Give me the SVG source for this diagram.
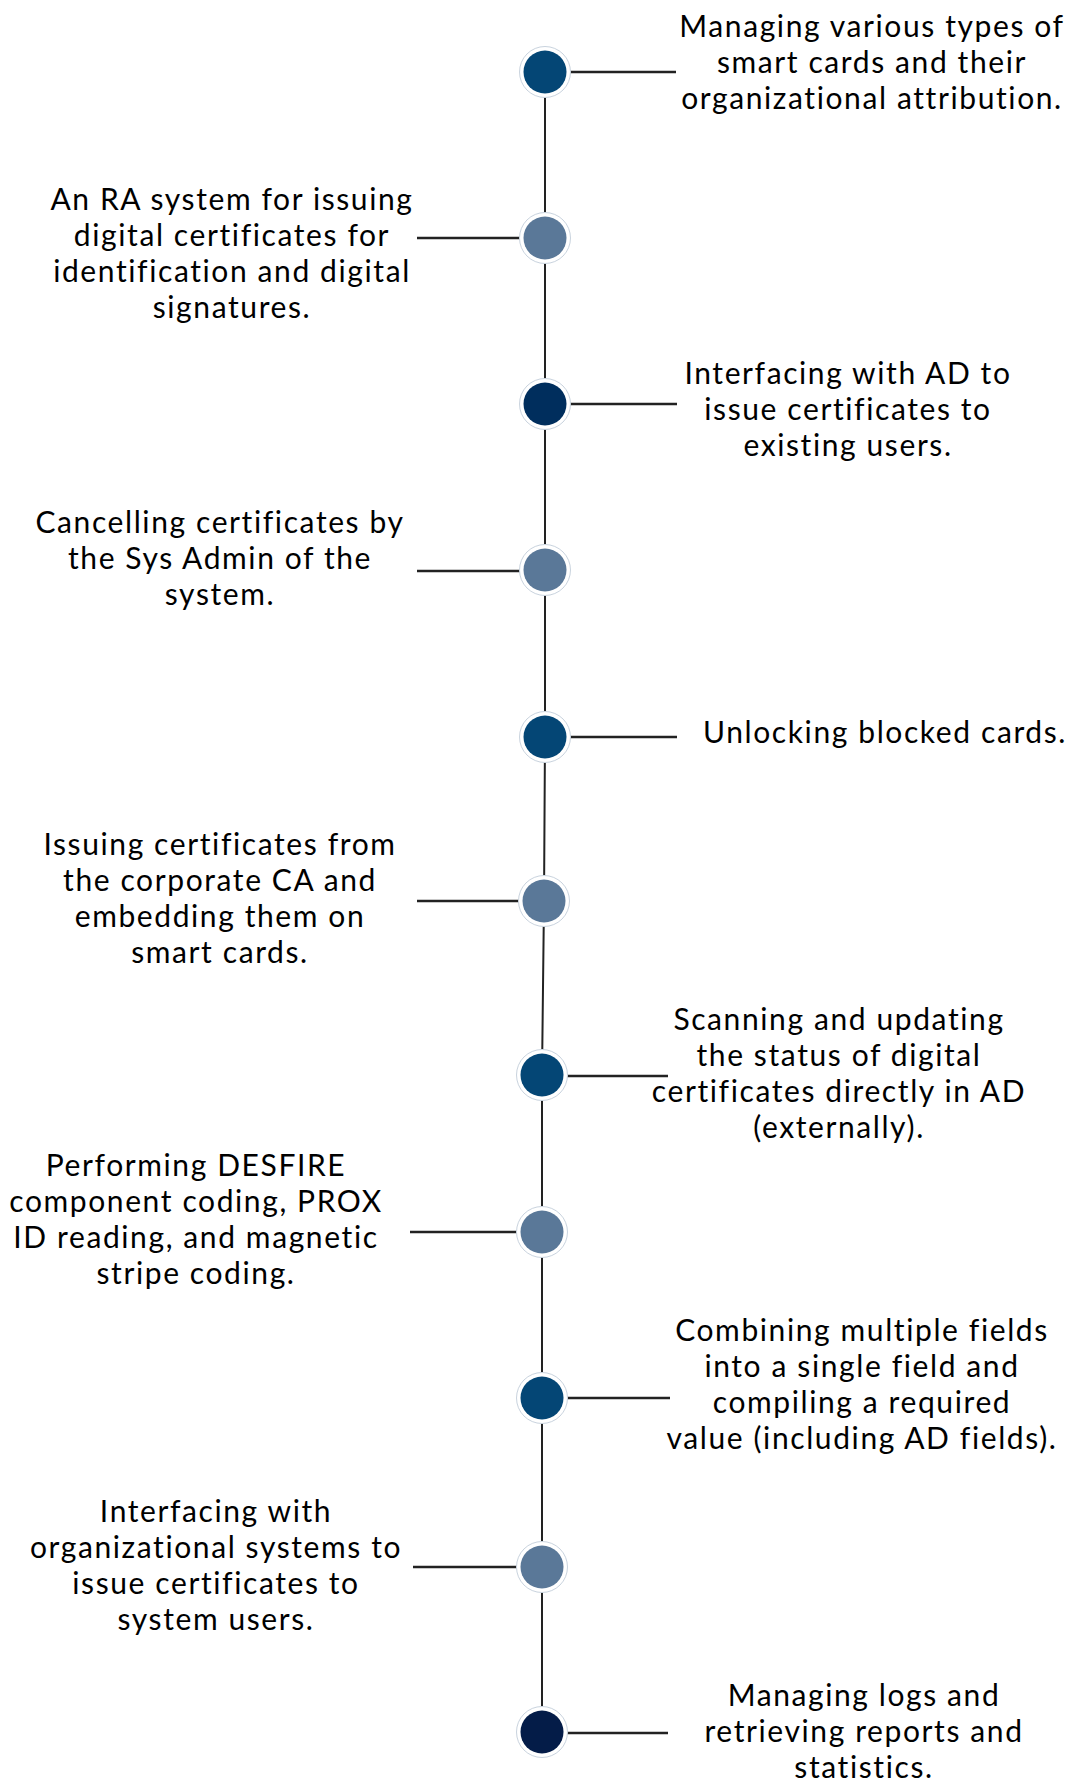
<svg xmlns="http://www.w3.org/2000/svg" width="1076" height="1782" viewBox="0 0 1076 1782">
<style>
.t{font-family:"Lato","Liberation Sans",sans-serif;font-size:30px;letter-spacing:1.6px;fill:#000;text-anchor:middle}
.c{stroke:#222;stroke-width:2.5;fill:none}
.spine{stroke:#222;stroke-width:2;fill:none}
.ring{fill:#fff;stroke:#c9d3de;stroke-width:1}
.d{fill:#044675}
.s{fill:#5A7898}
.n{fill:#002E5D}
.x{fill:#041C48}
</style>
<rect width="1076" height="1782" fill="#fff"/>
<g id="connectors">
<path class="spine" d="M545,72 L545,737 L544,901 L542,1075 L542,1732"/>
<line class="c" x1="570" y1="72" x2="676" y2="72"/>
<line class="c" x1="417" y1="238" x2="520" y2="238"/>
<line class="c" x1="569" y1="404" x2="677" y2="404"/>
<line class="c" x1="417" y1="571" x2="520" y2="571"/>
<line class="c" x1="569" y1="737" x2="677" y2="737"/>
<line class="c" x1="417" y1="901" x2="519" y2="901"/>
<line class="c" x1="567" y1="1076" x2="668" y2="1076"/>
<line class="c" x1="410" y1="1232" x2="517" y2="1232"/>
<line class="c" x1="567" y1="1398" x2="670" y2="1398"/>
<line class="c" x1="413" y1="1567" x2="517" y2="1567"/>
<line class="c" x1="567" y1="1733" x2="668" y2="1733"/>
</g>
<g id="n1"><circle class="ring" cx="545" cy="72" r="25.5"/><circle class="d" cx="545" cy="72" r="21.5"/>
<text class="t" x="872"><tspan x="872" y="37">Managing various types of</tspan><tspan x="872" y="73">smart cards and their</tspan><tspan x="872" y="109">organizational attribution.</tspan></text></g>
<g id="n2"><circle class="ring" cx="545" cy="238" r="25.5"/><circle class="s" cx="545" cy="238" r="21.5"/>
<text class="t"><tspan x="232" y="210">An RA system for issuing</tspan><tspan x="232" y="246">digital certificates for</tspan><tspan x="232" y="282">identification and digital</tspan><tspan x="232" y="318">signatures.</tspan></text></g>
<g id="n3"><circle class="ring" cx="545" cy="404" r="25.5"/><circle class="n" cx="545" cy="404" r="21.5"/>
<text class="t"><tspan x="848" y="384">Interfacing with AD to</tspan><tspan x="848" y="420">issue certificates to</tspan><tspan x="848" y="456">existing users.</tspan></text></g>
<g id="n4"><circle class="ring" cx="545" cy="570" r="25.5"/><circle class="s" cx="545" cy="570" r="21.5"/>
<text class="t"><tspan x="220" y="533">Cancelling certificates by</tspan><tspan x="220" y="569">the Sys Admin of the</tspan><tspan x="220" y="605">system.</tspan></text></g>
<g id="n5"><circle class="ring" cx="545" cy="737" r="25.5"/><circle class="d" cx="545" cy="737" r="21.5"/>
<text class="t"><tspan x="885" y="743">Unlocking blocked cards.</tspan></text></g>
<g id="n6"><circle class="ring" cx="544" cy="901" r="25.5"/><circle class="s" cx="544" cy="901" r="21.5"/>
<text class="t"><tspan x="220" y="855">Issuing certificates from</tspan><tspan x="220" y="891">the corporate CA and</tspan><tspan x="220" y="927">embedding them on</tspan><tspan x="220" y="963">smart cards.</tspan></text></g>
<g id="n7"><circle class="ring" cx="542" cy="1075" r="25.5"/><circle class="d" cx="542" cy="1075" r="21.5"/>
<text class="t"><tspan x="839" y="1030">Scanning and updating</tspan><tspan x="839" y="1066">the status of digital</tspan><tspan x="839" y="1102">certificates directly in AD</tspan><tspan x="839" y="1138">(externally).</tspan></text></g>
<g id="n8"><circle class="ring" cx="542" cy="1232" r="25.5"/><circle class="s" cx="542" cy="1232" r="21.5"/>
<text class="t"><tspan x="196" y="1176">Performing DESFIRE</tspan><tspan x="196" y="1212">component coding, PROX</tspan><tspan x="196" y="1248">ID reading, and magnetic</tspan><tspan x="196" y="1284">stripe coding.</tspan></text></g>
<g id="n9"><circle class="ring" cx="542" cy="1398" r="25.5"/><circle class="d" cx="542" cy="1398" r="21.5"/>
<text class="t"><tspan x="862" y="1341">Combining multiple fields</tspan><tspan x="862" y="1377">into a single field and</tspan><tspan x="862" y="1413">compiling a required</tspan><tspan x="862" y="1449">value (including AD fields).</tspan></text></g>
<g id="n10"><circle class="ring" cx="542" cy="1567" r="25.5"/><circle class="s" cx="542" cy="1567" r="21.5"/>
<text class="t"><tspan x="216" y="1522">Interfacing with</tspan><tspan x="216" y="1558">organizational systems to</tspan><tspan x="216" y="1594">issue certificates to</tspan><tspan x="216" y="1630">system users.</tspan></text></g>
<g id="n11"><circle class="ring" cx="542" cy="1732" r="25.5"/><circle class="x" cx="542" cy="1732" r="21.5"/>
<text class="t"><tspan x="864" y="1706">Managing logs and</tspan><tspan x="864" y="1742">retrieving reports and</tspan><tspan x="864" y="1778">statistics.</tspan></text></g>
</svg>
